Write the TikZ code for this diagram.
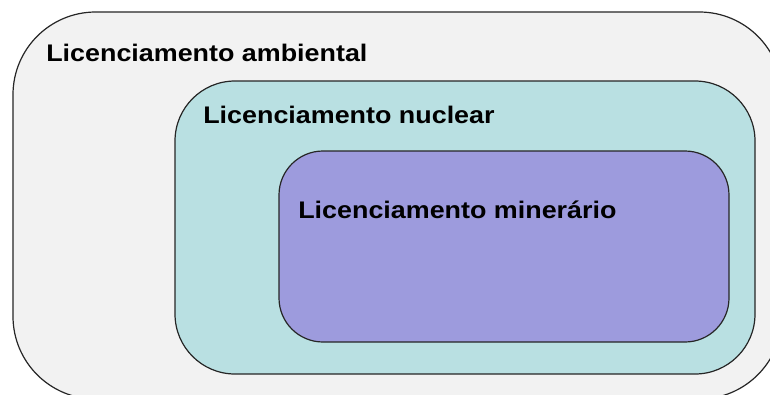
\documentclass[tikz,border=0pt]{standalone}
\usepackage{fontspec}
\setmainfont{Liberation Sans}
\definecolor{ambgray}{RGB}{242, 242, 242}
\definecolor{nuccyan}{RGB}{185, 224, 226}
\definecolor{minviolet}{RGB}{157, 155, 221}
\usepackage{tikz}
\usetikzlibrary{positioning}

\begin{document}
\begin{tikzpicture}[x=0.75pt, y=-0.75pt,
  boxline/.style={draw=black!85, line width=0.9pt},
  boxlabel/.style={anchor=base west, inner sep=0pt, xscale=1.12, font=\fontsize{18}{22}\selectfont\bfseries}]
  \useasboundingbox (0, 0) rectangle (770, 394);
  \clip (0, 0) rectangle (770, 394);
  \fill[white] (0, 0) rectangle (770, 394);

  % Licenciamento ambiental
  \draw[boxline, fill=ambgray, rounded corners=62] (13, 12) rectangle (782, 399);
  \node[boxlabel] (amb) at (46, 61) {Licenciamento ambiental};

  % Licenciamento nuclear
  \draw[boxline, fill=nuccyan, rounded corners=45] (175, 81) rectangle (755, 374);
  \node[boxlabel] (nuc) at (203, 123) {Licenciamento nuclear};

  % Licenciamento minerario
  \draw[boxline, fill=minviolet, rounded corners=33] (279, 151) rectangle (729, 342);
  \node[boxlabel] (min) at (298, 218) {Licenciamento minerário};
\end{tikzpicture}
\end{document}
